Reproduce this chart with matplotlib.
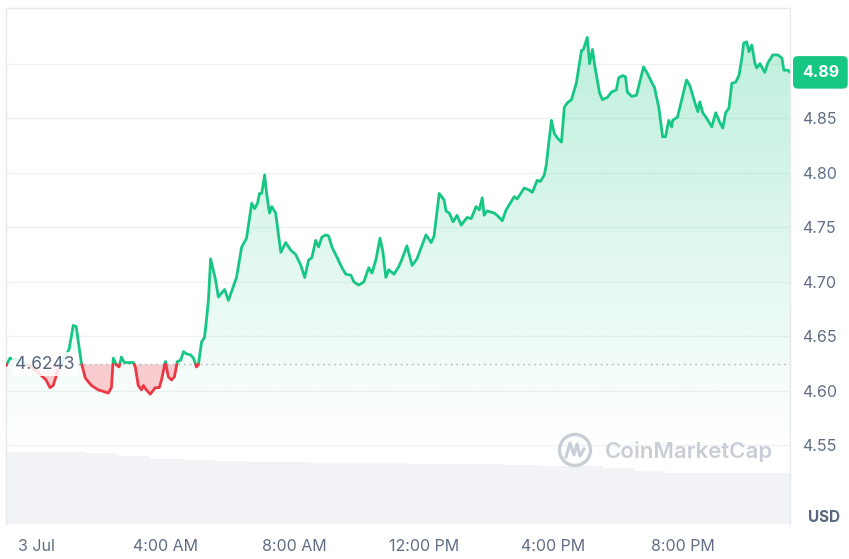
import numpy as np
import matplotlib
matplotlib.use("Agg")
import matplotlib.pyplot as plt
from matplotlib.patches import Polygon, Circle
from matplotlib.lines import Line2D

plt.rcParams['font.family'] = ['Inter', 'DejaVu Sans']

# price series, hours after 00:00 on 3 Jul and price in USD
hours = [-0.93, -0.81, -0.56, -0.25, 0.06, 0.31, 0.43, 0.53, 0.68, 0.87,
         1.02, 1.15, 1.24, 1.40, 1.52, 1.71, 1.92, 2.14, 2.23, 2.33,
         2.39, 2.48, 2.57, 2.64, 2.73, 2.91, 3.01, 3.07, 3.16, 3.26,
         3.32, 3.41, 3.53, 3.69, 3.81, 3.88, 4.00, 4.09, 4.19, 4.28,
         4.37, 4.47, 4.56, 4.65, 4.78, 4.87, 4.96, 5.02, 5.12, 5.21,
         5.27, 5.33, 5.40, 5.55, 5.64, 5.83, 5.95, 6.20, 6.36, 6.51,
         6.67, 6.76, 6.85, 6.91, 6.98, 7.07, 7.13, 7.22, 7.29, 7.41,
         7.57, 7.72, 7.88, 8.03, 8.19, 8.31, 8.43, 8.53, 8.65, 8.74,
         8.84, 8.96, 9.05, 9.15, 9.30, 9.46, 9.58, 9.74, 9.83, 9.98,
         10.14, 10.29, 10.39, 10.51, 10.64, 10.73, 10.82, 10.91, 11.07, 11.22,
         11.32, 11.47, 11.63, 11.78, 12.06, 12.22, 12.31, 12.47, 12.62, 12.68,
         12.78, 12.90, 13.02, 13.15, 13.33, 13.46, 13.61, 13.71, 13.80, 13.86,
         13.95, 14.17, 14.26, 14.42, 14.54, 14.79, 14.88, 15.10, 15.26, 15.35,
         15.50, 15.60, 15.72, 15.78, 15.94, 16.03, 16.12, 16.25, 16.34, 16.43,
         16.56, 16.71, 16.87, 16.93, 17.05, 17.12, 17.21, 17.27, 17.43, 17.52,
         17.67, 17.80, 17.95, 18.02, 18.14, 18.23, 18.29, 18.42, 18.57, 18.79,
         18.91, 19.04, 19.13, 19.26, 19.38, 19.47, 19.57, 19.66, 19.69, 19.84,
         20.12, 20.22, 20.37, 20.47, 20.53, 20.62, 20.74, 20.90, 21.02, 21.15,
         21.24, 21.33, 21.43, 21.52, 21.64, 21.74, 21.83, 21.89, 21.98, 22.05,
         22.14, 22.23, 22.29, 22.39, 22.54, 22.64, 22.79, 22.95, 23.07, 23.13,
         23.26, 23.32]
prices = [4.623, 4.630, 4.628, 4.624, 4.617, 4.610, 4.603, 4.605, 4.619, 4.630,
          4.638, 4.660, 4.659, 4.626, 4.612, 4.605, 4.601, 4.599, 4.598, 4.603,
          4.630, 4.624, 4.622, 4.631, 4.626, 4.626, 4.626, 4.622, 4.605, 4.601,
          4.605, 4.601, 4.597, 4.603, 4.603, 4.610, 4.627, 4.613, 4.610, 4.613,
          4.627, 4.628, 4.636, 4.634, 4.633, 4.630, 4.622, 4.624, 4.645, 4.649,
          4.665, 4.683, 4.721, 4.702, 4.686, 4.693, 4.683, 4.704, 4.732, 4.740,
          4.772, 4.767, 4.772, 4.781, 4.781, 4.798, 4.781, 4.763, 4.769, 4.763,
          4.727, 4.736, 4.729, 4.725, 4.715, 4.704, 4.720, 4.722, 4.738, 4.732,
          4.741, 4.743, 4.742, 4.732, 4.723, 4.713, 4.707, 4.706, 4.700, 4.697,
          4.700, 4.713, 4.708, 4.720, 4.740, 4.727, 4.704, 4.711, 4.707, 4.714,
          4.721, 4.733, 4.715, 4.721, 4.743, 4.736, 4.742, 4.781, 4.775, 4.765,
          4.763, 4.755, 4.761, 4.752, 4.759, 4.758, 4.769, 4.766, 4.777, 4.761,
          4.765, 4.763, 4.761, 4.756, 4.766, 4.778, 4.776, 4.786, 4.784, 4.782,
          4.793, 4.792, 4.798, 4.807, 4.848, 4.836, 4.832, 4.828, 4.860, 4.864,
          4.867, 4.882, 4.912, 4.913, 4.924, 4.900, 4.913, 4.900, 4.873, 4.867,
          4.869, 4.874, 4.876, 4.887, 4.889, 4.888, 4.874, 4.870, 4.871, 4.897,
          4.891, 4.883, 4.878, 4.860, 4.833, 4.833, 4.848, 4.842, 4.848, 4.851,
          4.885, 4.880, 4.865, 4.856, 4.865, 4.855, 4.850, 4.842, 4.855, 4.846,
          4.841, 4.855, 4.859, 4.882, 4.883, 4.889, 4.905, 4.919, 4.920, 4.911,
          4.917, 4.901, 4.896, 4.900, 4.892, 4.901, 4.908, 4.908, 4.905, 4.894,
          4.894, 4.892]

# hourly traded volume (millions USD)
vol_hours = list(range(-1, 24))
volumes = [115, 115, 115, 114, 109, 104, 102, 101, 99, 99, 98, 98, 98,
           96, 96, 96, 94, 93, 93, 90, 85, 82, 82, 82, 82]

open_price = 4.6243
last_label = "4.89"
price_ticks = [4.55, 4.60, 4.65, 4.70, 4.75, 4.80, 4.85, 4.90]
price_tick_labels = ["4.55", "4.60", "4.65", "4.70", "4.75", "4.80", "4.85", ""]
time_ticks = [0, 4, 8, 12, 16, 20]
time_tick_labels = ["3 Jul", "4:00 AM", "8:00 AM", "12:00 PM", "4:00 PM", "8:00 PM"]

GREEN = "#16c784"
RED = "#ea3943"
GRID = "#eff2f5"
TXT = "#616e85"

x = np.array(hours, dtype=float)
y = np.array(prices, dtype=float)

# add crossing points with the opening price so both colours join up
xs, ys = [x[0]], [y[0]]
for i in range(1, len(x)):
    y0, y1 = y[i - 1] - open_price, y[i] - open_price
    if y0 * y1 < 0:
        t = y0 / (y0 - y1)
        xs.append(x[i - 1] + t * (x[i] - x[i - 1]))
        ys.append(open_price)
    xs.append(x[i])
    ys.append(y[i])
xs = np.array(xs)
ys = np.array(ys)

fig = plt.figure(figsize=(8.49, 5.59), dpi=100)
pos = [6 / 849, 35 / 559, 784 / 849, 516 / 559]
xlim = (-0.93, 23.32)
ylim = (4.478, 4.951)

# volume underlay
axv = fig.add_axes(pos)
axv.bar(vol_hours, volumes, width=1.0, color="#f1f3f6", edgecolor="none", linewidth=0)
axv.set_xlim(xlim)
axv.set_ylim(0, 826)
axv.axis("off")

ax = fig.add_axes(pos)
ax.set_facecolor("none")

for p in price_ticks:
    ax.axhline(p, color=GRID, lw=1, zorder=0)

# green gradient under the line
grad_floor = 4.55
grad = np.zeros((256, 1, 4))
grad[:, 0, 0] = 22 / 255
grad[:, 0, 1] = 199 / 255
grad[:, 0, 2] = 132 / 255
grad[:, 0, 3] = np.linspace(0, 0.30, 256) ** 1.0
im = ax.imshow(grad, extent=[xlim[0], xlim[1], grad_floor, ylim[1]], origin="lower",
               aspect="auto", zorder=1)
verts = list(zip(xs, ys)) + [(xs[-1], grad_floor), (xs[0], grad_floor)]
poly = Polygon(verts, closed=True, facecolor="none", edgecolor="none", transform=ax.transData)
ax.add_patch(poly)
im.set_clip_path(poly)

ax.fill_between(xs, ys, open_price, where=ys <= open_price, color=RED, alpha=0.25,
                linewidth=0, zorder=2)

ax.axhline(open_price, color="#a6adbb", lw=1, ls=(0, (1, 3)), zorder=2)

green = np.where(ys >= open_price, ys, np.nan)
red = np.where(ys <= open_price, ys, np.nan)
ax.plot(xs, green, color=GREEN, lw=2.0, zorder=3, solid_capstyle="round", solid_joinstyle="round")
ax.plot(xs, red, color=RED, lw=2.0, zorder=3, solid_capstyle="round", solid_joinstyle="round")

ax.set_xlim(xlim)
ax.set_ylim(ylim)

ax.yaxis.tick_right()
ax.set_yticks(price_ticks)
ax.set_yticklabels(price_tick_labels)
ax.set_xticks(time_ticks)
ax.set_xticklabels(time_tick_labels)
ax.tick_params(axis="both", length=0, labelsize=11.5, labelcolor=TXT)
ax.tick_params(axis="y", pad=9)
ax.tick_params(axis="x", pad=10.5)

for side in ["left", "top", "right"]:
    ax.spines[side].set_color("#e6e9ee")
    ax.spines[side].set_linewidth(1)
ax.spines["bottom"].set_visible(False)

# opening price label
ax.text(0.012, open_price, f"{open_price:.4f}", transform=ax.get_yaxis_transform(),
        ha="left", va="center", fontsize=12.5, color="#58667e", zorder=4,
        bbox=dict(boxstyle="square,pad=0.2", facecolor="white", edgecolor="none", alpha=0.85))

# last price badge
ax.annotate(last_label, xy=(1, prices[-1]), xycoords=("axes fraction", "data"),
            xytext=(8.5, 0), textcoords="offset points", ha="left", va="center",
            fontsize=11.5, fontweight="bold", color="white", annotation_clip=False,
            bbox=dict(boxstyle="round,pad=0.55,rounding_size=0.3", facecolor=GREEN,
                      edgecolor="none"))

fig.text(808 / 849, 1 - 517 / 559, "USD", ha="left", va="center", fontsize=11,
         fontweight="bold", color="#58667e")

# watermark
wm = "#c9ced6"
fig.add_artist(Circle((5.75, 1.09), 0.155, transform=fig.dpi_scale_trans,
                      facecolor="none", edgecolor=wm, lw=2.4))
fig.add_artist(Line2D([5.66, 5.70, 5.74, 5.77, 5.80, 5.84],
                      [1.02, 1.16, 1.04, 1.15, 1.03, 1.10],
                      transform=fig.dpi_scale_trans, color=wm, lw=2.2))
fig.text(605 / 849, 1 - 452 / 559, "CoinMarketCap", ha="left", va="center",
         fontsize=16, fontweight="semibold", color=wm)

fig.savefig("out.png", dpi=100)
